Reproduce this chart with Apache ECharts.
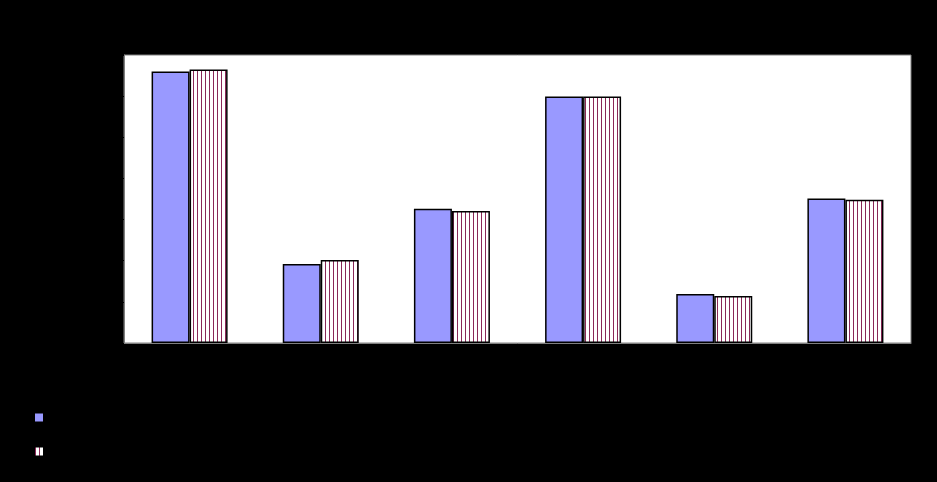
<!DOCTYPE html>
<html>
<head>
<meta charset="utf-8">
<script src="https://cdn.jsdelivr.net/npm/echarts@6/dist/echarts.min.js"></script>
<style>
html,body{margin:0;padding:0;background:#000;}
#c{width:937px;height:482px;}
</style>
</head>
<body>
<div id="c"></div>
<script>
const categories = ['Category 1', 'Category 2', 'Category 3', 'Category 4', 'Category 5', 'Category 6'];
const seriesNames = ['Series 1', 'Series 2'];
const series1 = [66.0, 19.2, 32.6, 59.9, 11.9, 35.1];
const series2 = [66.5, 20.2, 32.1, 59.9, 11.4, 34.8];
const yTicks = [0, 10, 20, 30, 40, 50, 60, 70];

const pat = document.createElement('canvas');
pat.width = 4; pat.height = 4;
const g = pat.getContext('2d');
g.fillStyle = '#ffffff';
g.fillRect(0, 0, 4, 4);
g.fillStyle = '#8a2858';
g.fillRect(1, 0, 1, 4);

const chart = echarts.init(document.getElementById('c'), null, {renderer: 'canvas'});
chart.setOption({
  backgroundColor: '#000000',
  animation: false,
  textStyle: {fontFamily: 'Liberation Sans, Arial, sans-serif', color: '#000'},
  grid: {left: 124, right: 26, top: 55, bottom: 139, show: true, backgroundColor: '#ffffff', borderColor: '#808080', borderWidth: 1},
  legend: {
    orient: 'vertical', left: 28, top: 406, itemWidth: 10, itemHeight: 10, itemGap: 21, icon: 'rect',
    textStyle: {color: '#000', fontSize: 13},
    data: seriesNames
  },
  xAxis: {
    type: 'category', data: categories,
    axisLine: {lineStyle: {color: '#808080'}},
    axisTick: {show: false},
    axisLabel: {color: '#000', fontSize: 13, margin: 14}
  },
  yAxis: {
    type: 'value', min: yTicks[0], max: yTicks[yTicks.length - 1], interval: 10,
    axisLine: {show: true, lineStyle: {color: '#808080'}},
    axisTick: {show: true, length: 4, lineStyle: {color: '#000'}},
    splitLine: {show: false},
    axisLabel: {color: '#000', fontSize: 13}
  },
  series: [
    {name: seriesNames[0], type: 'bar', data: series1, barWidth: 38, barGap: '0%',
     itemStyle: {color: '#9999ff', borderColor: '#000', borderWidth: 1.5}},
    {name: seriesNames[1], type: 'bar', data: series2, barWidth: 38,
     itemStyle: {color: {image: pat, repeat: 'repeat'}, borderColor: '#000', borderWidth: 1.5}}
  ]
});
</script>
</body>
</html>
